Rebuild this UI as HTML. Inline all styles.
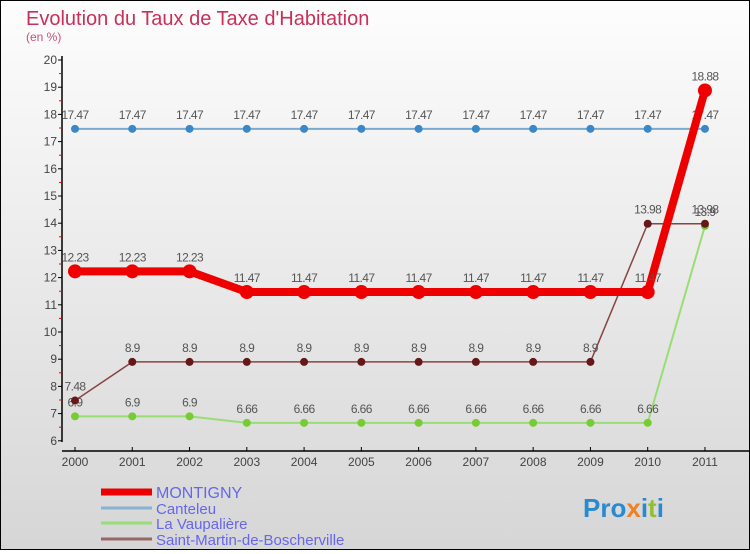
<!DOCTYPE html>
<html><head><meta charset="utf-8"><style>
html,body{margin:0;padding:0}
body{width:750px;height:550px;overflow:hidden;font-family:"Liberation Sans",sans-serif}
#c{position:absolute;left:0;top:0;width:748px;height:548px;border:1px solid #000;background:linear-gradient(#fdfdfd,#d6d6d6)}
</style></head><body>
<div id="c">
<svg id="s" width="748" height="548" xmlns="http://www.w3.org/2000/svg">
<text x="25" y="24" font-size="20" fill="#c8305a">Evolution du Taux de Taxe d'Habitation</text>
<text x="25" y="40" font-size="12" fill="#c8507a">(en %)</text>
<g id="axes"></g><g id="series"></g><g id="legend"></g>
<text x="582" y="516" font-size="26" font-weight="bold" fill="#2a8ad0">Pro<tspan fill="#f08020">x</tspan><tspan fill="#2a8ad0">i</tspan><tspan fill="#90c030">t</tspan><tspan fill="#2a8ad0">i</tspan></text>
</svg></div>
<script>
const years=[2000,2001,2002,2003,2004,2005,2006,2007,2008,2009,2010,2011];
const montigny=[12.23,12.23,12.23,11.47,11.47,11.47,11.47,11.47,11.47,11.47,11.47,18.88];
const canteleu=[17.47,17.47,17.47,17.47,17.47,17.47,17.47,17.47,17.47,17.47,17.47,17.47];
const vaupaliere=[6.9,6.9,6.9,6.66,6.66,6.66,6.66,6.66,6.66,6.66,6.66,13.9];
const saintMartin=[7.48,8.9,8.9,8.9,8.9,8.9,8.9,8.9,8.9,8.9,13.98,13.98];
const yTicks=[6,7,8,9,10,11,12,13,14,15,16,17,18,19,20];
const NS="http://www.w3.org/2000/svg";
const X=i=>74+i*57.27, Y=v=>59+(20-v)*27.2;
function mk(t,a,p){const e=document.createElementNS(NS,t);for(const k in a)e.setAttribute(k,a[k]);p.appendChild(e);return e;}
const ax=document.getElementById('axes');
let l=mk('line',{x1:61,y1:55,x2:61,y2:441,stroke:'#000','stroke-width':1.5},ax);


l=mk('line',{x1:61,y1:450,x2:748,y2:450,stroke:'#000','stroke-width':1.5},ax);


yTicks.forEach(v=>{mk('line',{x1:57,y1:Y(v),x2:61,y2:Y(v),stroke:'#000'},ax);
 if(v<20)mk('line',{x1:58,y1:Y(v+0.5),x2:61,y2:Y(v+0.5),stroke:'#e00'},ax);
 const t=mk('text',{x:56,y:Y(v)+4,'font-size':12,'text-anchor':'end',fill:'#444'},ax);t.textContent=v;
 
 });
years.forEach((y,i)=>{mk('line',{x1:X(i),y1:446,x2:X(i),y2:450,stroke:'#000'},ax);
 const t=mk('text',{x:X(i),y:465,'font-size':12,'text-anchor':'middle',fill:'#444'},ax);t.textContent=y;
 
 });
const sg=document.getElementById('series');
function series(vals,name,col,w,r,dot){
 const g=mk('g',{},sg);
 
 
 mk('polyline',{points:vals.map((v,i)=>X(i)+','+Y(v)).join(' '),fill:'none',stroke:col,'stroke-width':w,'stroke-linejoin':'round'},g);
 vals.forEach((v,i)=>{const c=mk('circle',{cx:X(i),cy:Y(v),r:r,fill:dot},g);
  
  
  const t=mk('text',{x:X(i),y:Y(v)-10,'font-size':12,'text-anchor':'middle',fill:'#555','letter-spacing':'-0.6'},g);t.textContent=v;
  
  });
}
series(vaupaliere,'la-vaupaliere','#99dd77',2,4,'#77cc33');
series(saintMartin,'saint-martin','#884444',1.5,4,'#661818');
series(canteleu,'canteleu','#7aaad0',2,4,'#3a88c8');
series(montigny,'montigny','#ee0000',8,7,'#ee0000');
const lg=document.getElementById('legend');
const names=['MONTIGNY','Canteleu','La Vaupalière','Saint-Martin-de-Boscherville'];
const cols=['#ee0000','#88b4d4','#99dd77','#996666'];const ws=[7,3,3,3];const ly=[492,508,523,539];
names.forEach((n,i)=>{const g=mk('g',{},lg);
 
 
 mk('line',{x1:100,y1:ly[i]-1,x2:151,y2:ly[i]-1,stroke:cols[i],'stroke-width':ws[i]},g);
 const t=mk('text',{x:155,y:ly[i]+5,'font-size':i==0?16:15,fill:'#6666ee'},g);t.textContent=n;});
</script>
</body></html>
